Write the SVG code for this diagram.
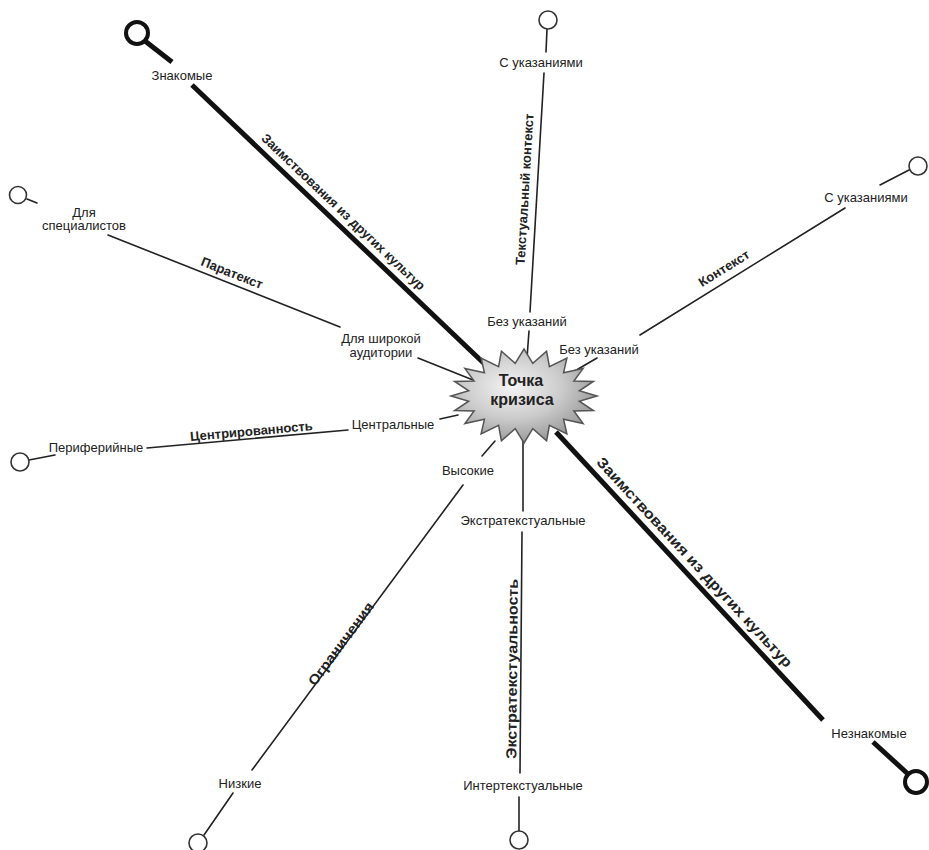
<svg xmlns="http://www.w3.org/2000/svg" width="929" height="850" viewBox="0 0 929 850">
<defs>
<radialGradient id="g" cx="0.42" cy="0.4" r="0.62">
<stop offset="0" stop-color="#f4f4f4"/>
<stop offset="0.55" stop-color="#cbcbcb"/>
<stop offset="1" stop-color="#979797"/>
</radialGradient>
<style>
.t{font-family:"Liberation Sans",Arial,sans-serif;font-size:13px;fill:#222;text-anchor:middle}
.b{font-weight:bold}
.l{stroke:#222;stroke-width:1.6;fill:none;stroke-linecap:round}
.k{stroke:#111;stroke-width:5;fill:none}
.c{fill:#fff;stroke:#333;stroke-width:1.6}
.ck{fill:#fff;stroke:#111;stroke-width:4}
</style>
</defs>
<rect width="929" height="850" fill="#fff"/>
<g id="connectors">
<line class="k" x1="145" y1="41" x2="172" y2="62"/>
<line class="k" x1="192" y1="85" x2="493" y2="372"/>
<line class="k" x1="556" y1="432" x2="823" y2="720"/>
<line class="k" x1="873" y1="742" x2="908" y2="774"/>
<line class="l" x1="547" y1="29" x2="546" y2="52"/>
<line class="l" x1="544" y1="73" x2="530" y2="312"/>
<line class="l" x1="529" y1="331" x2="527" y2="358"/>
<line class="l" x1="909" y1="170" x2="880" y2="185"/>
<line class="l" x1="845" y1="208" x2="640" y2="335"/>
<line class="l" x1="597" y1="358" x2="573" y2="372"/>
<line class="l" x1="27" y1="199" x2="37" y2="203"/>
<line class="l" x1="108" y1="235" x2="340" y2="327"/>
<line class="l" x1="418" y1="358" x2="473" y2="380"/>
<line class="l" x1="440" y1="419" x2="458" y2="415"/>
<line class="l" x1="348" y1="430" x2="147" y2="448"/>
<line class="l" x1="29" y1="460" x2="55" y2="455"/>
<line class="l" x1="495" y1="441" x2="482" y2="456"/>
<line class="l" x1="463" y1="485" x2="252" y2="770"/>
<line class="l" x1="233" y1="793" x2="204" y2="835"/>
<line class="l" x1="523" y1="440" x2="523" y2="511"/>
<line class="l" x1="522" y1="532" x2="520" y2="773"/>
<line class="l" x1="519" y1="797" x2="519" y2="831"/>
<text class="t b" transform="translate(334.7,220.9) rotate(43.6)" y="-8">Заимствования из других культур</text>
<text class="t b" style="font-size:14.5px" textLength="280" lengthAdjust="spacingAndGlyphs" transform="translate(685,571) rotate(47.2)" y="-8">Заимствования из других культур</text>
<text class="t b" transform="translate(537,190) rotate(-86.6)" y="-8">Текстуальный контекст</text>
<text class="t b" transform="translate(730.6,278.9) rotate(-31.8)" y="-8">Контекст</text>
<text class="t b" transform="translate(228.2,282.7) rotate(21.6)" y="-6">Паратекст</text>
<text class="t b" transform="translate(252,438.6) rotate(-5.1)" y="-3">Центрированность</text>
<text class="t b" style="font-size:14px" textLength="100" lengthAdjust="spacingAndGlyphs" transform="translate(348,649) rotate(-53.5)" y="-4">Ограничения</text>
<text class="t b" style="font-size:14.5px" textLength="180" lengthAdjust="spacingAndGlyphs" transform="translate(521,669) rotate(-89.5)" y="-4">Экстратекстуальность</text>
</g>
<g id="n-znakomye"><circle class="ck" cx="137" cy="33" r="11"/><text class="t" x="182" y="79.5">Знакомые</text></g>
<g id="n-neznakomye"><circle class="ck" cx="916" cy="782" r="11"/><text class="t" x="869" y="737.5">Незнакомые</text></g>
<g id="n-s-ukaz-1"><circle class="c" cx="548" cy="20" r="9"/><text class="t" x="541" y="67">С указаниями</text></g>
<g id="n-bez-ukaz-1"><text class="t" x="527" y="325.5">Без указаний</text></g>
<g id="n-s-ukaz-2"><circle class="c" cx="918" cy="166" r="9"/><text class="t" x="866" y="202">С указаниями</text></g>
<g id="n-bez-ukaz-2"><text class="t" x="599" y="353.5">Без указаний</text></g>
<g id="n-spec"><circle class="c" cx="18" cy="195" r="8.5"/><text class="t" x="84" y="216.5">Для</text><text class="t" x="84" y="230">специалистов</text></g>
<g id="n-shirokoy"><text class="t" x="381" y="343">Для широкой</text><text class="t" x="381" y="357">аудитории</text></g>
<g id="n-central"><text class="t" x="393" y="428.5">Центральные</text></g>
<g id="n-periph"><circle class="c" cx="20" cy="462" r="9"/><text class="t" x="96" y="451.5">Периферийные</text></g>
<g id="n-vysokie"><text class="t" x="468" y="475">Высокие</text></g>
<g id="n-nizkie"><circle class="c" cx="198" cy="843" r="9"/><text class="t" x="240" y="788">Низкие</text></g>
<g id="n-extra"><text class="t" x="523" y="524.5">Экстратекстуальные</text></g>
<g id="n-inter"><circle class="c" cx="519" cy="840" r="9"/><text class="t" x="523" y="790">Интертекстуальные</text></g>
<g id="n-center">
<polygon fill="url(#g)" stroke="#555" stroke-width="1.5" points="597,396 579.3,401.2 593.4,410.5 573.9,411 583.1,423.6 563.6,419.3 566.9,434 549.4,425.4 546.6,440.7 532.8,428.6 524,443 515.2,428.6 501.4,440.7 498.6,425.4 481.1,434 484.4,419.3 464.9,423.6 474.1,411 454.6,410.5 468.7,401.2 451,396 468.7,390.8 454.6,381.5 474.1,381 464.9,368.4 484.4,372.7 481.1,358 498.6,366.6 501.4,351.3 515.2,363.4 524,349 532.8,363.4 546.6,351.3 549.4,366.6 566.9,358 563.6,372.7 583.1,368.4 573.9,381 593.4,381.5 579.3,390.8"/>
<text class="t b" style="font-size:16px" x="521" y="386">Точка</text>
<text class="t b" style="font-size:16px" x="522" y="405">кризиса</text>
</g>
</svg>
